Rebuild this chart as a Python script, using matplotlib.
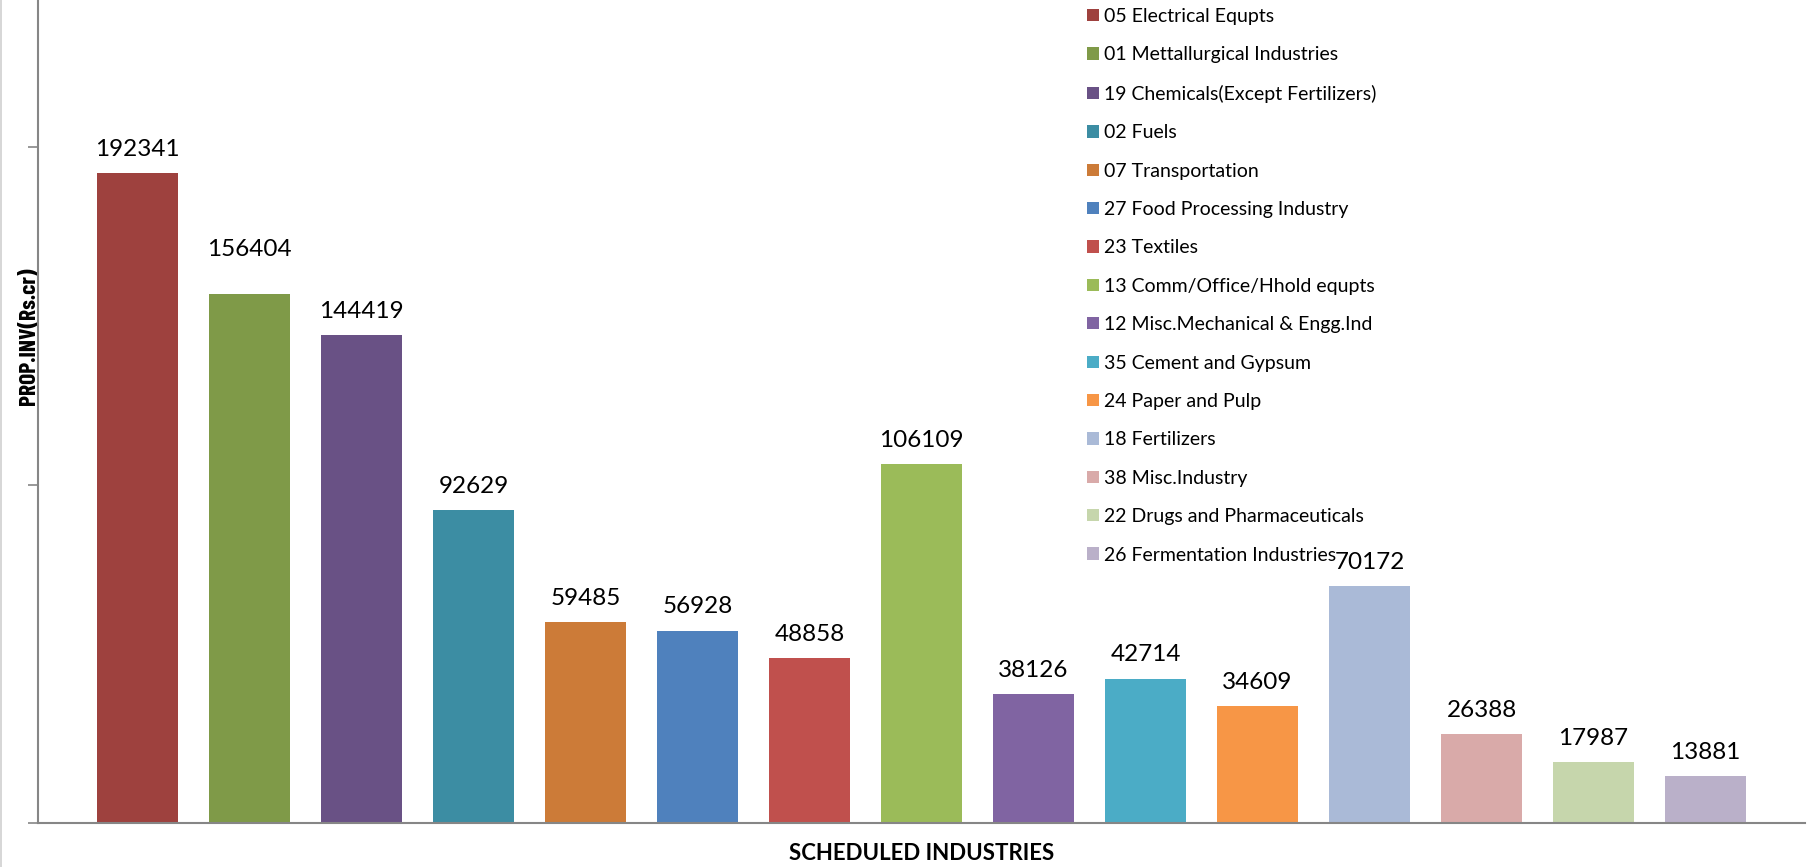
import matplotlib
matplotlib.use('Agg')
import matplotlib.pyplot as plt
from matplotlib.patches import Patch
from matplotlib.lines import Line2D
import numpy as np

# Proposed investment by scheduled industry
industries = [
    '05 Electrical Equpts',
    '01 Mettallurgical Industries',
    '19 Chemicals(Except Fertilizers)',
    '02 Fuels',
    '07 Transportation',
    '27 Food Processing Industry',
    '23 Textiles',
    '13 Comm/Office/Hhold equpts',
    '12 Misc.Mechanical & Engg.Ind',
    '35 Cement and Gypsum',
    '24 Paper and Pulp',
    '18 Fertilizers',
    '38 Misc.Industry',
    '22 Drugs and Pharmaceuticals',
    '26 Fermentation Industries',
]
prop_inv = [192341, 156404, 144419, 92629, 59485, 56928, 48858, 106109,
            38126, 42714, 34609, 70172, 26388, 17987, 13881]
colors = ['#9E413E', '#7F9A48', '#695185', '#3C8DA3', '#CC7B38',
          '#4F81BD', '#C0504D', '#9BBB59', '#8064A2', '#4BACC6',
          '#F79646', '#AABAD7', '#D9AAA9', '#C6D6AC', '#BAB0C9']
y_ticks = [0, 100000, 200000]

plt.rcParams['font.family'] = ['Lato', 'DejaVu Sans']

fig = plt.figure(figsize=(18.13, 8.67), dpi=100)
ax = fig.add_axes([38 / 1813, 44 / 867, 1767 / 1813, 845 / 867])

x = np.arange(len(prop_inv))
bars = ax.bar(x, prop_inv, width=0.723, color=colors)

for i, (xi, v) in enumerate(zip(x, prop_inv)):
    # the 01 label sits higher in the original (moved by hand)
    dy = 25 if i == 1 else 9.5
    ax.annotate(str(v), (xi, v), xytext=(0, dy), textcoords='offset points',
                ha='center', va='bottom', fontsize=17.5, color='black')

ax.set_xlim(-0.888, len(prop_inv) - 1 + 0.888)
ax.set_ylim(0, 250000)
ax.set_xticks([])
ax.set_yticks(y_ticks)
ax.set_yticklabels([])
ax.tick_params(axis='y', length=7, width=1.2, color='#868686')

for s in ['top', 'right']:
    ax.spines[s].set_visible(False)
for s in ['left', 'bottom']:
    ax.spines[s].set_color('#868686')
    ax.spines[s].set_linewidth(1.5)

fig.text(922 / 1813, 1 - 853 / 867, 'SCHEDULED INDUSTRIES', ha='center', va='center',
         fontsize=16, fontweight='bold')
fig.text(29 / 1813, 1 - 336 / 867, 'PROP.INV(Rs.cr)', ha='center', va='center',
         rotation=90, fontsize=17, fontweight='bold',
         family=['Barlow Condensed', 'DejaVu Sans'])

# thin border on the left edge
fig.add_artist(Line2D([0.0006, 0.0006], [0, 1], transform=fig.transFigure,
                      color='#D0D0D0', linewidth=1.2))

handles = [Patch(facecolor=c, edgecolor='none') for c in colors]
leg = fig.legend(handles, industries, loc='upper left',
                 bbox_to_anchor=(1087 / 1813, 1 - 8 / 867),
                 frameon=False, fontsize=14, handlelength=0.6, handleheight=0.6,
                 handletextpad=0.3, labelspacing=1.1, borderpad=0, borderaxespad=0)

plt.savefig('out.png', dpi=100)
plt.close()
